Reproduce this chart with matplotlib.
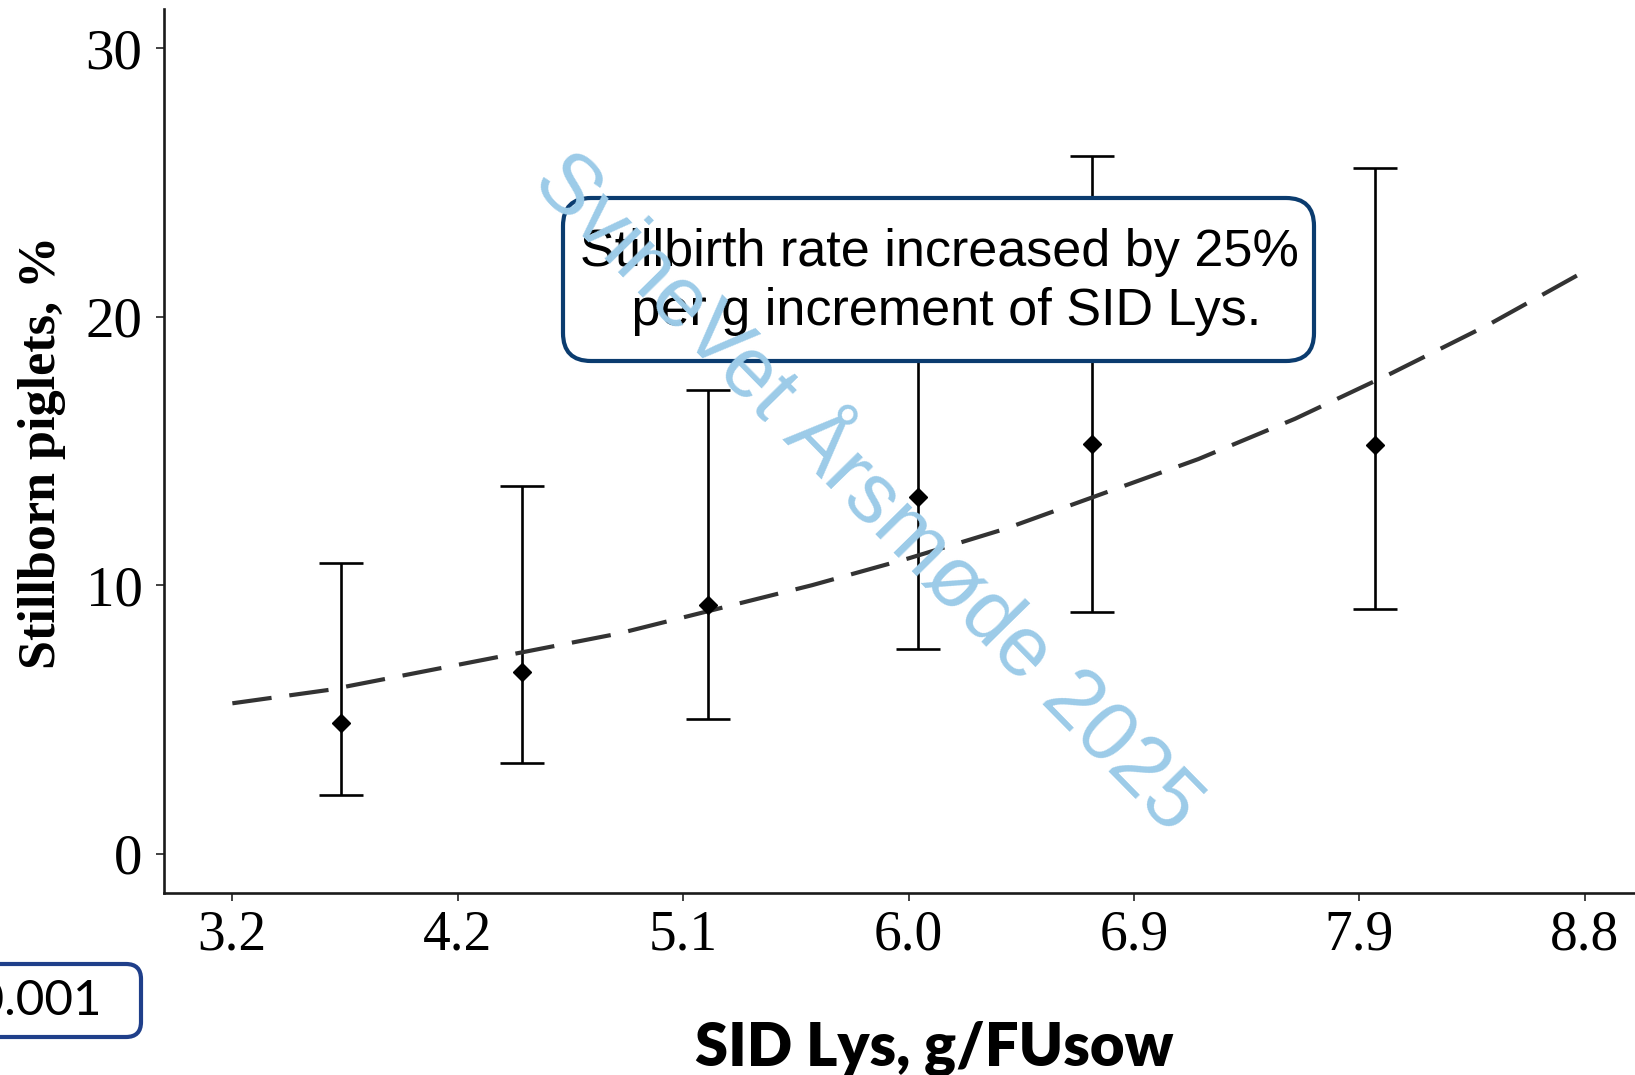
import numpy as np
import matplotlib
matplotlib.use("Agg")
import matplotlib.pyplot as plt
from matplotlib.patches import FancyBboxPatch

# Stillborn piglets (%) by SID Lys level: estimate with 95% CI
lys_level = [3.65, 4.40, 5.17, 6.04, 6.76, 7.93]
stillborn_pct = [4.88, 6.78, 9.27, 13.27, 15.25, 15.22]
ci_lower = [2.20, 3.36, 5.00, 7.64, 9.00, 9.11]
ci_upper = [10.83, 13.70, 17.27, 23.05, 26.01, 25.55]

# fitted exponential trend
fit_lys = [3.2, 3.6, 4.0, 4.4, 4.8, 5.2, 5.6, 6.0, 6.4, 6.8, 7.2, 7.6, 8.0, 8.4, 8.8]
fit_pct = [5.6, 6.1, 6.8, 7.5, 8.2, 9.1, 10.0, 11.0, 12.1, 13.4, 14.7, 16.2, 17.9, 19.7, 21.7]

x_tick_labels = ["3.2", "4.2", "5.1", "6.0", "6.9", "7.9", "8.8"]
y_ticks = [0, 10, 20, 30]

W, H = 1635, 1075


def fig_xy(x, y):
    """pixel position (origin top-left) -> figure fraction"""
    return x / W, 1 - y / H


fig = plt.figure(figsize=(W / 100, H / 100), dpi=100)
ax = fig.add_axes([164 / W, 1 - 892.7 / H, (W - 164) / W, (892.7 - 9) / H])

yerr = [np.array(stillborn_pct) - np.array(ci_lower),
        np.array(ci_upper) - np.array(stillborn_pct)]
ax.errorbar(lys_level, stillborn_pct, yerr=yerr, fmt="none", ecolor="black",
            elinewidth=1.9, capsize=15.8, capthick=1.9, zorder=2)
ax.plot(fit_lys, fit_pct, color="#333333", lw=3.0, dashes=(9.5, 4.3),
        solid_capstyle="butt", zorder=3)
ax.plot(lys_level, stillborn_pct, "D", color="black", ms=9.5, zorder=4)

ax.set_xlim(2.917, 9.008)
ax.set_ylim(-1.457, 31.47)
ax.set_xticks(np.linspace(3.2, 8.8, len(x_tick_labels)))
ax.set_xticklabels(x_tick_labels)
ax.set_yticks(y_ticks)

for side in ["top", "right"]:
    ax.spines[side].set_visible(False)
for side in ["left", "bottom"]:
    ax.spines[side].set_linewidth(1.9)
    ax.spines[side].set_color("#1a1a1a")

ax.tick_params(axis="both", direction="out", length=5.5, width=1.3, color="#333333")
ax.tick_params(axis="x", pad=6.5)
ax.tick_params(axis="y", pad=10)
for lab in ax.get_xticklabels():
    lab.set_family("Liberation Serif")
    lab.set_fontsize(40)
for lab in ax.get_yticklabels():
    lab.set_family("Liberation Serif")
    lab.set_fontsize(41)

# axis titles
fig.text(*fig_xy(42, 452), "Stillborn piglets, %", rotation=90, ha="center", va="center",
         family="Liberation Serif", weight="bold", fontsize=37.5)
fig.text(*fig_xy(934, 1065), "SID Lys, g/FUsow", ha="center", va="baseline",
         family="Lato", weight="heavy", fontsize=43)

# annotation box
x0, y0, x1, y1 = 563, 198, 1314, 361
bx, by = fig_xy(x0, y1)
box = FancyBboxPatch((bx, by), (x1 - x0) / W, (y1 - y0) / H,
                     boxstyle="round,pad=0,rounding_size=%f" % (28 / W),
                     mutation_aspect=W / H, transform=fig.transFigure,
                     facecolor="white", edgecolor="#0b3c6f", lw=3, zorder=5)
fig.add_artist(box)
fig.text(*fig_xy(939, 282), "Stillbirth rate increased by 25%\n per g increment of SID Lys.",
         ha="center", va="center", multialignment="center", linespacing=1.27,
         family="Liberation Sans", fontsize=37.5, zorder=6)

# p-value box at the lower left
px0, py0, px1, py1 = -80, 964, 141, 1037
bx, by = fig_xy(px0, py1)
pbox = FancyBboxPatch((bx, by), (px1 - px0) / W, (py1 - py0) / H,
                      boxstyle="round,pad=0,rounding_size=%f" % (15 / W),
                      mutation_aspect=W / H, transform=fig.transFigure,
                      facecolor="white", edgecolor="#1f3f8a", lw=3, zorder=5)
fig.add_artist(pbox)
fig.text(*fig_xy(101, 1001), "P < 0.001", ha="right", va="center",
         family="Lato", fontsize=35.5, zorder=6)

# watermark
fig.text(*fig_xy(866, 494), "SvineVet Årsmøde 2025", rotation=-45.5, rotation_mode="anchor",
         ha="center", va="center", family="Liberation Sans", fontsize=61,
         color="#9ccbe8", zorder=10)

fig.savefig("out.png", dpi=100)
